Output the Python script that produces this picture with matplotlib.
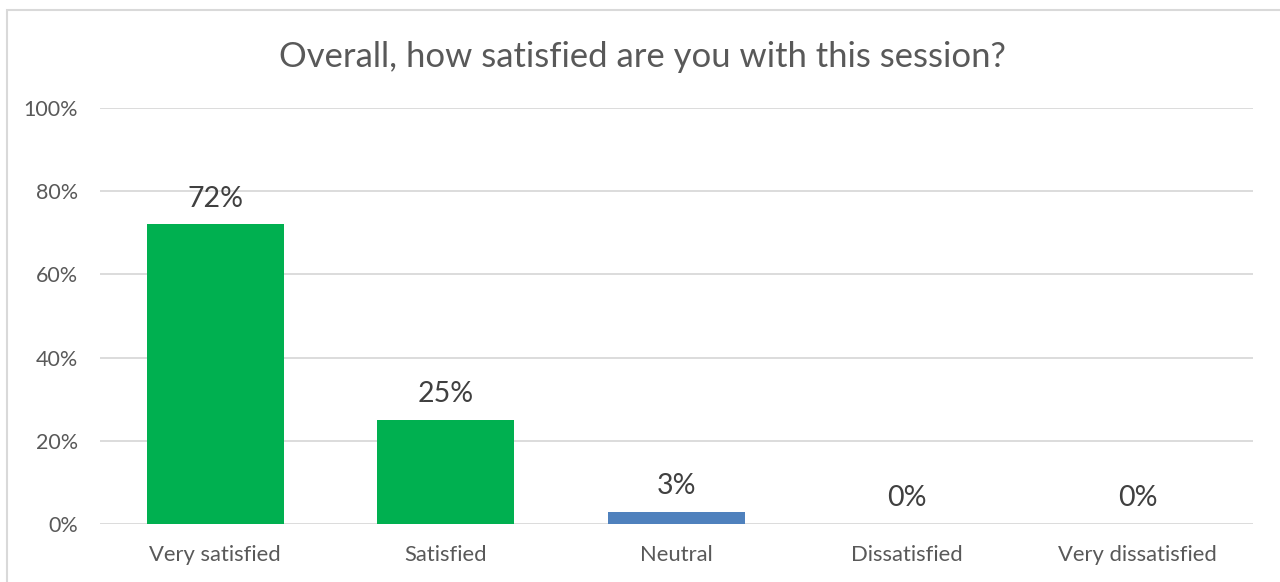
import matplotlib
matplotlib.use("Agg")
import matplotlib.pyplot as plt
from matplotlib.patches import Rectangle

categories = ["Very satisfied", "Satisfied", "Neutral", "Dissatisfied", "Very dissatisfied"]
values = [72, 25, 3, 0, 0]
labels = ["72%", "25%", "3%", "0%", "0%"]
colors = ["#00B050", "#00B050", "#4F81BD", "#4F81BD", "#4F81BD"]
yticks = [0, 20, 40, 60, 80, 100]
title = "Overall, how satisfied are you with this session?"

plt.rcParams['font.family'] = ['Lato', 'DejaVu Sans']
txt = "#595959"

fig = plt.figure(figsize=(12.8, 5.82), dpi=100)
fig.patches.append(Rectangle((7/1280, -0.1), 1.2, 1 - 10/582 + 0.1, transform=fig.transFigure,
                             fill=False, edgecolor="#D9D9D9", linewidth=1.5))
ax = fig.add_axes([100/1280, 1 - 524/582, 1153/1280, 416/582])
x = list(range(len(categories)))
ax.bar(x, values, width=0.594, color=colors, zorder=3)
ax.set_xlim(-0.5, len(categories) - 0.5)
ax.set_ylim(0, 100)
ax.set_yticks(yticks)
ax.set_yticklabels([f"{t}%" for t in yticks])
ax.set_xticks(x)
ax.set_xticklabels(categories)
ax.tick_params(axis='y', length=0, labelsize=15.5, colors=txt, pad=16)
ax.tick_params(axis='x', length=0, labelsize=15.8, colors=txt, pad=15)
ax.grid(axis='y', color="#D9D9D9", linewidth=1.3, zorder=0)
for s in ax.spines.values():
    s.set_visible(False)
for xi, v, lab in zip(x, values, labels):
    ax.annotate(lab, (xi, v), xytext=(0, 9), textcoords='offset points',
                ha='center', va='bottom', fontsize=20.5, color="#404040")
fig.text(0.502, 1 - 57/582, title, ha='center', va='center', fontsize=24.9, color=txt)
fig.savefig("out.png", dpi=100)
